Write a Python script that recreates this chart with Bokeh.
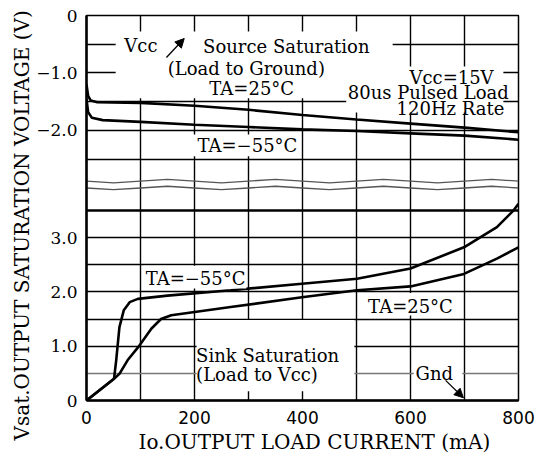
import numpy as np
from bokeh.plotting import figure
from bokeh.models import (Range1d, FixedTicker, Grid, BoxAnnotation, Label,
                          Arrow, NormalHead, Title)
from bokeh.embed import file_html
from bokeh.resources import INLINE

# ---------------- data ----------------
# Source saturation (load to ground), negative volts
source_i_25 = [0, 3, 8, 20, 100, 200, 300, 400, 500, 600, 700, 800]
source_v_25 = [-1.20, -1.40, -1.48, -1.51, -1.52, -1.57, -1.64, -1.73, -1.81, -1.88, -1.95, -2.03]
source_i_m55 = [0, 3, 10, 30, 100, 200, 300, 400, 500, 600, 700, 800]
source_v_m55 = [-1.45, -1.68, -1.78, -1.82, -1.85, -1.90, -1.94, -1.98, -2.01, -2.05, -2.09, -2.16]

# Sink saturation (load to Vcc), positive volts
sink_i_m55 = [0, 51, 55, 61, 69, 80, 95, 150, 267, 399, 501, 600, 699, 760, 791, 800]
sink_v_m55 = [0, 0.40, 0.74, 1.35, 1.66, 1.81, 1.87, 1.93, 2.03, 2.15, 2.24, 2.43, 2.82, 3.19, 3.50, 3.62]
sink_i_25 = [0, 51, 61, 76, 98, 120, 138, 157, 267, 399, 501, 600, 699, 760, 800]
sink_v_25 = [0, 0.40, 0.49, 0.74, 1.01, 1.32, 1.50, 1.57, 1.72, 1.90, 2.03, 2.10, 2.33, 2.61, 2.82]

# axis ticks
x_ticks = [0, 200, 400, 600, 800]
x_grid = [100, 200, 300, 400, 500, 600, 700]
bottom_ticks = [0, 1, 2, 3]
bottom_tick_labels = ["0", "1.0", "2.0", "3.0"]
top_ticks = [0, -1, -2]
top_tick_labels = ["0", "\u22121.0", "\u22122.0"]
bottom_grid = [1, 1.5, 2, 2.5, 3]
bottom_grid_light = [0.5]
bottom_break = [3.5]
top_grid = [-0.5, -1, -1.5, -2, -2.5]

# axis-break wavy marks (decoration)
wave_i = [0, 50, 100, 150, 200, 250, 300, 350, 400, 450, 500, 550, 600, 650, 700, 750, 800]
wave_d = [0, -0.03, 0, 0.03, 0, -0.03, 0, 0.03, 0, -0.03, 0, 0.03, 0, -0.03, 0, 0.03, 0]
wave_levels = [-2.88, -3.00]

# ---------------- figure ----------------
B_END = 7.086     # bottom (sink) scale end
T_START = -6.696  # top (source) scale start


def top_to_bottom(v):
    return B_END * (v - T_START) / (0 - T_START)


SERIF = "DejaVu Serif"

p = figure(frame_width=432, frame_height=385,
           min_border_left=86, min_border_right=21,
           min_border_top=15, min_border_bottom=52,
           x_range=Range1d(0, 800), y_range=Range1d(0, B_END),
           output_backend="svg", toolbar_location=None,
           background_fill_color="white", border_fill_color="white")
p.extra_y_ranges = {"top": Range1d(T_START, 0)}

p.outline_line_color = "black"
p.outline_line_width = 1.5
p.outline_line_alpha = 1

# x axis
p.xaxis.ticker = FixedTicker(ticks=x_ticks)
p.xaxis.major_tick_line_color = None
p.xaxis.minor_tick_line_color = None
p.xaxis.axis_line_width = 2.5
p.xaxis.major_label_text_font = "DejaVu Sans"
p.xaxis.major_label_text_font_size = "17px"
p.xaxis.major_label_text_color = "black"
p.xaxis.major_label_standoff = 4

# y axis: one axis that labels both scales
y_tick_pos = list(bottom_ticks) + [top_to_bottom(v) for v in top_ticks]
y_tick_lab = list(bottom_tick_labels) + list(top_tick_labels)
p.yaxis.ticker = FixedTicker(ticks=y_tick_pos)
p.yaxis.major_label_overrides = {pos: lab for pos, lab in zip(y_tick_pos, y_tick_lab)}
p.yaxis.major_tick_line_color = None
p.yaxis.minor_tick_line_color = None
p.yaxis.axis_line_width = 2.5
p.yaxis.major_label_text_font = SERIF
p.yaxis.major_label_text_font_size = "17px"
p.yaxis.major_label_text_color = "black"
p.yaxis.major_label_standoff = 3

# axis titles
p.add_layout(Title(text="Vsat.OUTPUT SATURATION VOLTAGE (V)", align="left", offset=-40,
                   text_font=SERIF, text_font_size="20px", text_font_style="normal",
                   text_color="black", standoff=0), "left")
p.add_layout(Title(text="Io.OUTPUT LOAD CURRENT (mA)", align="left", offset=52,
                   text_font=SERIF, text_font_size="20px", text_font_style="normal",
                   text_color="black", standoff=2), "below")

# grids
p.xgrid.ticker = FixedTicker(ticks=x_grid)
p.xgrid.grid_line_color = "black"
p.xgrid.grid_line_width = 1.4
p.ygrid.visible = False

p.add_layout(Grid(dimension=1, ticker=FixedTicker(ticks=bottom_grid),
                  grid_line_color="black", grid_line_width=1.4))
p.add_layout(Grid(dimension=1, ticker=FixedTicker(ticks=bottom_grid_light),
                  grid_line_color="#777777", grid_line_width=1.3))
p.add_layout(Grid(dimension=1, ticker=FixedTicker(ticks=bottom_break),
                  grid_line_color="black", grid_line_width=2.5))
p.add_layout(Grid(dimension=1, ticker=FixedTicker(ticks=top_grid), y_range_name="top",
                  grid_line_color="black", grid_line_width=1.4))

# wavy break marks
for lvl in wave_levels:
    p.line(wave_i, [lvl + d for d in wave_d], y_range_name="top",
           line_color="#555555", line_width=1.3)

# white masks behind the texts (as on the datasheet)
masks_top = [(54, 567, -0.28, -1.44), (481, 772, -0.887, -1.687), (193, 396, -2.07, -2.45)]
masks_bottom = [(106, 296, 2.48, 2.06), (517, 683, 1.98, 1.565),
                (204, 496, 1.48, 0.17), (606, 696, 0.64, 0.31)]
for l, r, t, b in masks_top:
    p.add_layout(BoxAnnotation(left=l, right=r, top=t, bottom=b, y_range_name="top",
                               fill_color="white", fill_alpha=1, line_color=None))
for l, r, t, b in masks_bottom:
    p.add_layout(BoxAnnotation(left=l, right=r, top=t, bottom=b,
                               fill_color="white", fill_alpha=1, line_color=None))

# curves
p.line(source_i_25, source_v_25, y_range_name="top", line_color="black", line_width=2.6)
p.line(source_i_m55, source_v_m55, y_range_name="top", line_color="black", line_width=2.6)
p.line(sink_i_m55, sink_v_m55, line_color="black", line_width=2.6)
p.line(sink_i_25, sink_v_25, line_color="black", line_width=2.6)


def lab(x, y, text, top=False, align="center", size="18px", **kw):
    extra = {"y_range_name": "top"} if top else {}
    p.add_layout(Label(x=x, y=y, text=text, text_font=SERIF, text_font_size=size,
                       text_align=align, text_baseline="middle", text_color="black",
                       **extra, **kw))


# top panel texts
lab(70, -0.52, "Vcc", top=True, align="left")
lab(370, -0.54, "Source Saturation", top=True)
lab(296, -0.92, "(Load to Ground)", top=True)
lab(306, -1.27, "TA=25\u00b0C", top=True)
lab(298, -2.26, "TA=\u221255\u00b0C", top=True)
lab(676, -1.08, "Vcc=15V", top=True)
lab(633, -1.34, "80us Pulsed Load", top=True)
lab(674, -1.62, "120Hz Rate", top=True)

# bottom panel texts
lab(202, 2.25, "TA=\u221255\u00b0C")
lab(600, 1.73, "TA=25\u00b0C")
lab(203, 0.83, "Sink Saturation", align="left")
lab(203, 0.48, "(Load to Vcc)", align="left")
lab(644, 0.50, "Gnd")

# arrows
p.add_layout(Arrow(end=NormalHead(size=9, fill_color="black", line_color="black"),
                   x_start=148, y_start=-0.73, x_end=181, y_end=-0.40,
                   y_range_name="top", line_width=1.3))
p.add_layout(Arrow(end=NormalHead(size=9, fill_color="black", line_color="black"),
                   x_start=665, y_start=0.37, x_end=698, y_end=0.05,
                   line_width=1.3))

open("out.html", "w").write(file_html(p, INLINE))
